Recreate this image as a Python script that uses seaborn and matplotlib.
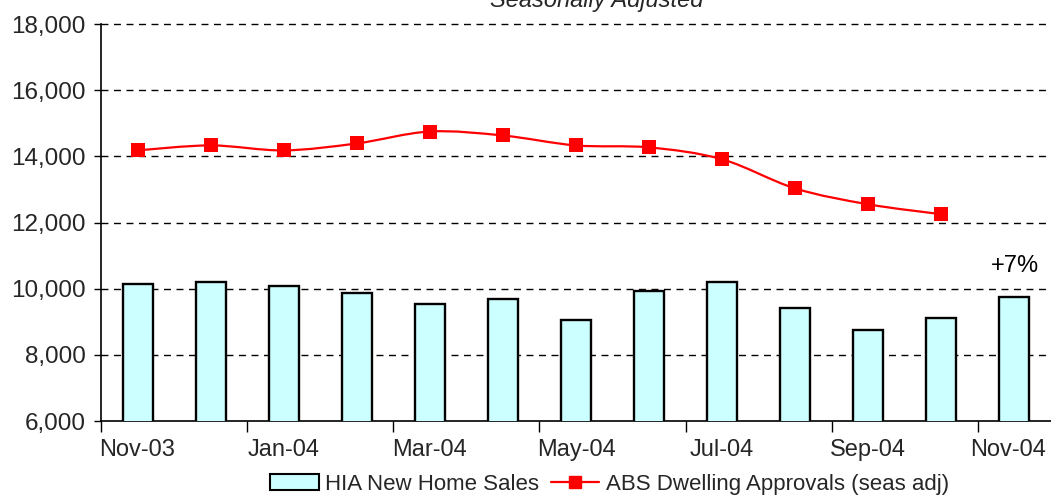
import matplotlib
matplotlib.use("Agg")
import matplotlib.pyplot as plt
import matplotlib.transforms as mtransforms
import seaborn as sns
import numpy as np
import pandas as pd
from matplotlib.path import Path
from matplotlib.patches import PathPatch
from matplotlib.lines import Line2D
from matplotlib.patches import Patch

months = ["Nov-03", "Dec-03", "Jan-04", "Feb-04", "Mar-04", "Apr-04", "May-04",
          "Jun-04", "Jul-04", "Aug-04", "Sep-04", "Oct-04", "Nov-04"]
hia_sales = [10150, 10200, 10070, 9880, 9530, 9700, 9060, 9940, 10210, 9420, 8760, 9120, 9760]
abs_approvals = [14180, 14330, 14180, 14390, 14750, 14630, 14330, 14270, 13910, 13030, 12550, 12250]
tick_labels = ["Nov-03", "Jan-04", "Mar-04", "May-04", "Jul-04", "Sep-04", "Nov-04"]

sns.set_theme(style="white")
plt.rcParams['font.family'] = ['Liberation Sans', 'DejaVu Sans']

fig = plt.figure(figsize=(10.51, 4.96), dpi=100)
ax = fig.add_axes([0.0961, 0.1512, 0.9039, 0.8004])

df = pd.DataFrame({"month": months, "sales": hia_sales})
sns.barplot(data=df, x="month", y="sales", ax=ax, color="#CCFFFF",
            edgecolor="black", linewidth=1.7, width=0.41, saturation=1, zorder=3)

# smoothed line (Catmull-Rom via cubic Bezier)
xs = np.arange(len(abs_approvals), dtype=float)
ys = np.array(abs_approvals, dtype=float)
verts = [(xs[0], ys[0])]
codes = [Path.MOVETO]
n = len(xs)
for i in range(n - 1):
    p0 = np.array([xs[max(i - 1, 0)], ys[max(i - 1, 0)]])
    p1 = np.array([xs[i], ys[i]])
    p2 = np.array([xs[i + 1], ys[i + 1]])
    p3 = np.array([xs[min(i + 2, n - 1)], ys[min(i + 2, n - 1)]])
    c1 = p1 + (p2 - p0) / 6.0
    c2 = p2 - (p3 - p1) / 6.0
    verts += [tuple(c1), tuple(c2), tuple(p2)]
    codes += [Path.CURVE4, Path.CURVE4, Path.CURVE4]
ax.add_patch(PathPatch(Path(verts, codes), facecolor="none", edgecolor="#FF0000",
                       linewidth=1.6, zorder=4))
sns.scatterplot(x=xs, y=ys, ax=ax, marker="s", s=95, color="#FF0000",
                edgecolor="#FF0000", linewidth=0, zorder=5, legend=False)

ax.set_ylim(6000, 18000)
ax.set_xlim(-0.5, 12.5)
ax.set_yticks(np.arange(6000, 18001, 2000))
ax.set_yticklabels([f"{v:,}" for v in range(6000, 18001, 2000)], fontsize=17.5)
for v in range(8000, 18001, 2000):
    ax.axhline(v, color="black", linestyle=(0, (5, 4)), linewidth=1.0, zorder=1,
               clip_on=False)

ax.set_xticks(np.arange(-0.5, 13, 2))
ax.set_xticklabels([])
ax.set_xticks(np.arange(0, 13, 2), minor=True)
ax.set_xticklabels(tick_labels, minor=True, fontsize=17)
ax.tick_params(axis="x", which="major", direction="out", length=8, width=1, color="black", bottom=True)
ax.tick_params(axis="x", which="minor", length=0, pad=13, bottom=True)
ax.tick_params(axis="y", direction="out", length=5, width=1, color="black", left=True, pad=6)
ax.set_xlabel("")
ax.set_ylabel("")

# keep the last category label inside the figure, as the original does
last = ax.get_xticklabels(minor=True)[-1]
last.set_transform(last.get_transform() +
                   mtransforms.ScaledTranslation(-6 / 100, 0, fig.dpi_scale_trans))

for s in ["top", "right"]:
    ax.spines[s].set_visible(False)
for s in ["left", "bottom"]:
    ax.spines[s].set_color("black")
    ax.spines[s].set_linewidth(1.2)

ax.text(12, 10700, "+7%", ha="center", va="center", fontsize=17, color="black")

fig.text(0.568, 1.0, "Seasonally Adjusted", ha="center", va="center",
         fontsize=17, style="italic")

handles = [Patch(facecolor="#CCFFFF", edgecolor="black", linewidth=1.5),
           Line2D([0], [0], color="#FF0000", marker="s", markersize=8, linewidth=1.6)]
fig.legend(handles, ["HIA New Home Sales", "ABS Dwelling Approvals (seas adj)"],
           loc="center", bbox_to_anchor=(0.58, 0.024), ncol=2, frameon=False,
           fontsize=16, handlelength=2.2, handletextpad=0.3, columnspacing=0.5,
           borderpad=0)

fig.savefig("out.png", dpi=100)
